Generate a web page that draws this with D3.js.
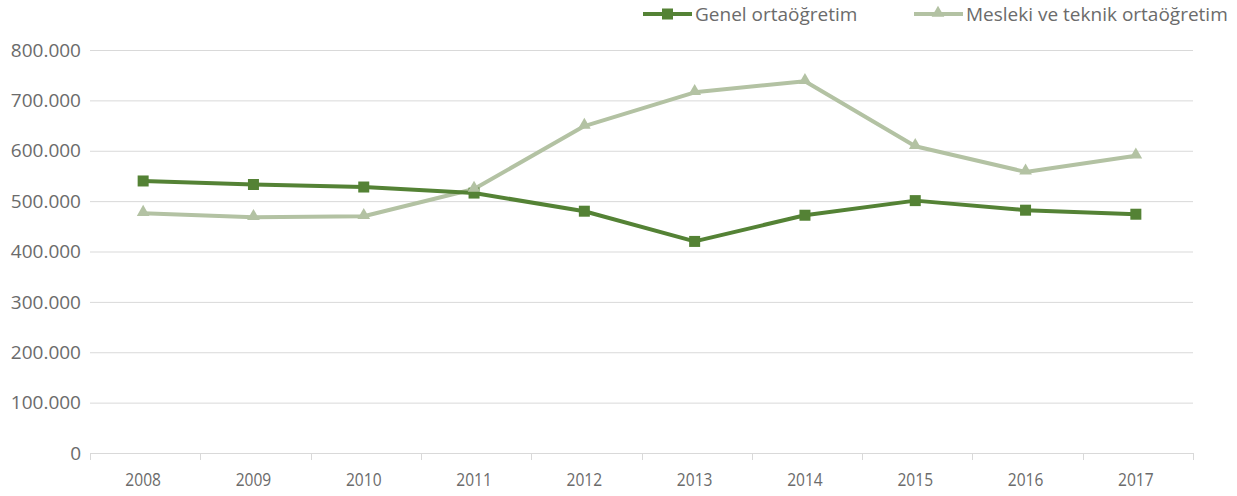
<!DOCTYPE html>
<html>
<head>
<meta charset="utf-8">
<script src="https://cdn.jsdelivr.net/npm/d3@7"></script>
<style>
  body { margin: 0; background: #fff; }
  text { font-family: "Open Sans", sans-serif; fill: #6b6b6b; }
</style>
</head>
<body>
<script>
// Chart data
const years = ["2008", "2009", "2010", "2011", "2012", "2013", "2014", "2015", "2016", "2017"];
const genel = [540000, 533000, 528000, 516000, 480000, 420000, 472000, 501000, 482000, 474000];
const mesleki = [476000, 468000, 470000, 524000, 649000, 716000, 738000, 609000, 558000, 590000];
const yTicks = [0, 100000, 200000, 300000, 400000, 500000, 600000, 700000, 800000];
const seriesNames = ["Genel ortaöğretim", "Mesleki ve teknik ortaöğretim"];

(function() {
  const W = 1237, H = 496;
  const margin = { top: 50, right: 44, bottom: 43, left: 90 };
  const width = W - margin.left - margin.right;
  const height = H - margin.top - margin.bottom;

  const svg = d3.select("body").append("svg")
    .attr("width", W)
    .attr("height", H);

  const g = svg.append("g")
    .attr("transform", `translate(${margin.left},${margin.top})`);

  const x = d3.scaleBand().domain(years).range([0, width]);
  const y = d3.scaleLinear().domain([0, 800000]).range([height, 0]);

  const fmt = v => v === 0 ? "0" : d3.format(",")(v).replace(/,/g, ".");

  // gridlines
  g.selectAll(".grid")
    .data(yTicks.filter(d => d > 0))
    .enter().append("line")
    .attr("x1", 0).attr("x2", width)
    .attr("y1", d => y(d) + 0.5).attr("y2", d => y(d) + 0.5)
    .attr("stroke", "#d9d9d9").attr("stroke-width", 1);

  // y labels
  g.selectAll(".ylab")
    .data(yTicks)
    .enter().append("text")
    .attr("x", -9)
    .attr("y", d => y(d))
    .attr("dy", "0.35em")
    .attr("text-anchor", "end")
    .style("font-size", "19px")
    .text(fmt);

  // x axis
  const xAxis = g.append("g")
    .attr("transform", `translate(0,${height})`);
  xAxis.append("line")
    .attr("x1", 0).attr("x2", width)
    .attr("y1", 0.5).attr("y2", 0.5)
    .attr("stroke", "#d9d9d9");
  const bounds = years.map(d => x(d)).concat([width]);
  xAxis.selectAll(".tick")
    .data(bounds)
    .enter().append("line")
    .attr("x1", d => Math.round(d) + 0.5).attr("x2", d => Math.round(d) + 0.5)
    .attr("y1", 0).attr("y2", 7)
    .attr("stroke", "#d9d9d9");
  // year labels are drawn narrower than the value labels
  xAxis.selectAll(".xlab")
    .data(years)
    .enter().append("text")
    .attr("transform", d => `translate(${x(d) + x.bandwidth() / 2 - 2},33) scale(0.82,1)`)
    .attr("text-anchor", "middle")
    .style("font-size", "19px")
    .text(d => d);

  const cx = d => x(d) + x.bandwidth() / 2 - 2;
  const line = d3.line()
    .x((d, i) => cx(years[i]))
    .y(d => y(d));

  const colors = ["#548235", "#b3c2a3"];
  const series = [genel, mesleki];

  // draw light series first, dark on top
  [1, 0].forEach(k => {
    g.append("path")
      .datum(series[k])
      .attr("fill", "none")
      .attr("stroke", colors[k])
      .attr("stroke-width", 4)
      .attr("stroke-linejoin", "round")
      .attr("d", line);
  });

  // markers
  g.selectAll(".sq")
    .data(genel)
    .enter().append("rect")
    .attr("x", (d, i) => cx(years[i]) - 5.5)
    .attr("y", d => y(d) - 5.5)
    .attr("width", 11).attr("height", 11)
    .attr("fill", colors[0]);

  const tri = d3.symbol().type(d3.symbolTriangle).size(70);
  g.selectAll(".tri")
    .data(mesleki)
    .enter().append("path")
    .attr("transform", (d, i) => `translate(${cx(years[i])},${y(d) - 1})`)
    .attr("d", tri)
    .attr("fill", colors[1]);

  // legend
  const legend = svg.append("g");
  const legX = [643, 914];
  seriesNames.forEach((name, k) => {
    const lg = legend.append("g").attr("transform", `translate(${legX[k]},14)`);
    lg.append("line")
      .attr("x1", 0).attr("x2", 49)
      .attr("stroke", colors[k]).attr("stroke-width", 4);
    if (k === 0) {
      lg.append("rect").attr("x", 19).attr("y", -5.5).attr("width", 11).attr("height", 11).attr("fill", colors[0]);
    } else {
      lg.append("path").attr("transform", "translate(24,-1)").attr("d", tri).attr("fill", colors[1]);
    }
    lg.append("text")
      .attr("x", 52)
      .attr("y", 0)
      .attr("dy", "0.35em")
      .style("font-size", "19px")
      .text(name);
  });
})();
</script>
</body>
</html>
